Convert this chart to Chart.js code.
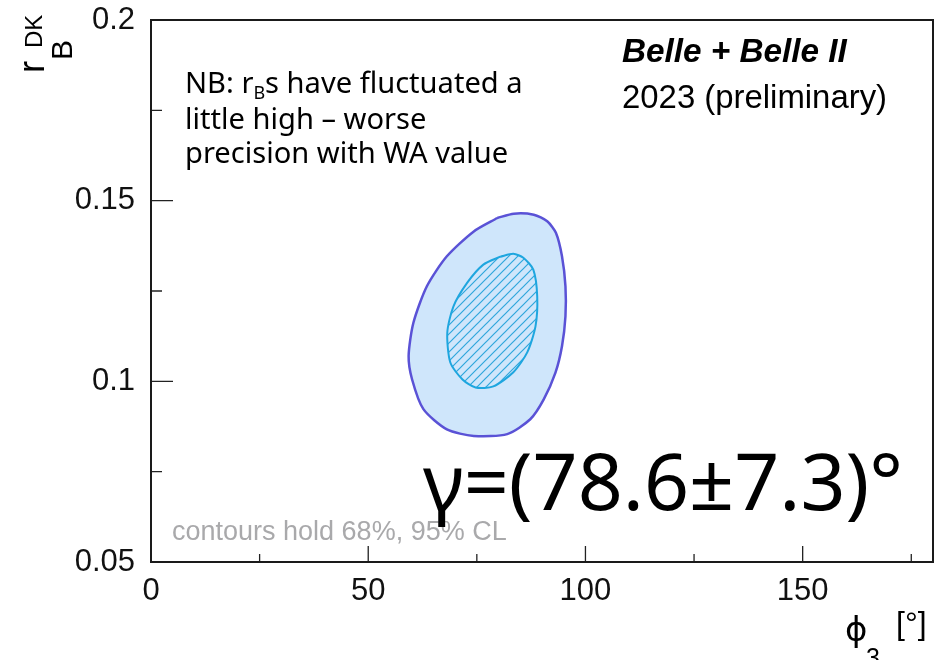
<!DOCTYPE html>
<html>
<head>
<meta charset="utf-8">
<script src="https://cdn.jsdelivr.net/npm/chart.js@4.4.0/dist/chart.umd.min.js"></script>
<style>
  html, body { margin: 0; padding: 0; background: #fff; }
</style>
</head>
<body>
<canvas id="c" width="938" height="660"></canvas>
<script>
// 95% CL contour (phi3 in degrees, r_B^DK)
const outerPhi = [79.7, 83.5, 88.1, 91.2, 93.2, 94.6, 95.4, 95.4, 94.6, 93.1, 90.4, 87.3, 82.0, 74.3, 68.1, 62.7, 60.1, 59.3, 60.4, 63.5, 68.1, 74.3, 79.7];
const outerRb  = [0.1452, 0.1464, 0.1461, 0.1443, 0.1411, 0.1346, 0.1263, 0.1180, 0.1097, 0.1024, 0.0950, 0.0895, 0.0854, 0.0849, 0.0867, 0.0923, 0.1005, 0.1070, 0.1162, 0.1263, 0.1346, 0.1415, 0.1452];
// 68% CL contour
const innerPhi = [80.4, 83.4, 85.7, 88.0, 88.9, 88.5, 86.6, 83.4, 78.8, 74.7, 71.7, 68.9, 68.2, 69.6, 72.8, 76.5, 80.4];
const innerRb  = [0.1345, 0.1353, 0.1342, 0.1309, 0.1235, 0.1152, 0.1080, 0.1025, 0.0986, 0.0983, 0.1005, 0.1052, 0.1135, 0.1207, 0.1273, 0.1323, 0.1345];

const xMajor = [0, 50, 100, 150];
const xMinor = [25, 75, 125, 175];
const yMajor = [0.05, 0.1, 0.15, 0.2];
const yMinor = [0.075, 0.125, 0.175];

const pts = (xs, ys) => xs.map((x, i) => ({ x: x, y: ys[i] }));

const canvas = document.getElementById('c');
const ctx = canvas.getContext('2d');

// diagonal hatching for the 68% region
function makeHatch() {
  const t = 9;
  const p = document.createElement('canvas');
  p.width = t; p.height = t;
  const g = p.getContext('2d');
  g.fillStyle = '#cfe6fb';
  g.fillRect(0, 0, t, t);
  g.strokeStyle = '#2ea6dc';
  g.lineWidth = 1.2;
  g.beginPath();
  g.moveTo(-1, t + 1); g.lineTo(t + 1, -1);
  g.moveTo(-1, 1); g.lineTo(1, -1);
  g.moveTo(t - 1, t + 1); g.lineTo(t + 1, t - 1);
  g.stroke();
  return ctx.createPattern(p, 'repeat');
}

function fit(c, txt, style, family, w) {
  c.font = style + ' 100px ' + family;
  const s = 100 * w / c.measureText(txt).width;
  c.font = style + ' ' + s.toFixed(1) + 'px ' + family;
  return s;
}

const decor = {
  id: 'decor',
  afterDraw(chart) {
    const c = chart.ctx;
    const a = chart.chartArea;
    const xs = chart.scales.x, ys = chart.scales.y;
    c.save();

    // ticks pointing inwards
    c.strokeStyle = '#222';
    c.lineWidth = 1.3;
    c.beginPath();
    xMajor.forEach(v => { const p = xs.getPixelForValue(v); c.moveTo(p, a.bottom); c.lineTo(p, a.bottom - 16); });
    xMinor.forEach(v => { const p = xs.getPixelForValue(v); c.moveTo(p, a.bottom); c.lineTo(p, a.bottom - 8); });
    yMajor.forEach(v => { const p = ys.getPixelForValue(v); c.moveTo(a.left, p); c.lineTo(a.left + 22, p); });
    yMinor.forEach(v => { const p = ys.getPixelForValue(v); c.moveTo(a.left, p); c.lineTo(a.left + 11, p); });
    c.stroke();

    // frame
    c.strokeStyle = '#1a1a1a';
    c.lineWidth = 2;
    c.strokeRect(a.left, a.top, a.right - a.left, a.bottom - a.top);

    c.fillStyle = '#000';
    c.textAlign = 'left';
    c.textBaseline = 'alphabetic';

    // experiment label
    fit(c, 'Belle + Belle II', 'italic bold', '"Liberation Sans", Arial', 225);
    c.fillText('Belle + Belle II', 622, 62);
    fit(c, '2023 (preliminary)', '', '"Liberation Sans", Arial', 265);
    c.fillText('2023 (preliminary)', 622, 108);

    // note
    const nbFam = '"Noto Sans", sans-serif';
    const nb = fit(c, 'precision with WA value', '', nbFam, 323);
    c.fillText('precision with WA value', 185, 163);
    c.fillText('little high \u2013 worse', 185, 129);
    let x = 185;
    c.fillText('NB: r', x, 93);
    x += c.measureText('NB: r').width;
    c.font = (nb * 0.62).toFixed(1) + 'px ' + nbFam;
    c.fillText('B', x, 99);
    x += c.measureText('B').width;
    c.font = nb.toFixed(1) + 'px ' + nbFam;
    c.fillText('s have fluctuated a', x, 93);

    // CL note
    c.fillStyle = '#a9a9ab';
    fit(c, 'contours hold 68%, 95% CL', '', '"Liberation Sans", Arial', 335);
    c.fillText('contours hold 68%, 95% CL', 172, 540);

    // result
    c.fillStyle = '#000';
    fit(c, '\u03b3=(78.6\u00b17.3)\u00b0', '', nbFam, 480);
    c.fillText('\u03b3=(78.6\u00b17.3)\u00b0', 423, 510);

    // x axis title
    c.font = '34px "DejaVu Sans"';
    c.fillText('\u03d5', 845, 641);
    c.font = '25px "Liberation Sans", Arial';
    c.fillText('3', 866, 666);
    c.font = '32px "Liberation Sans", Arial';
    c.fillText('[\u00b0]', 896, 634);

    // y axis title, rotated
    c.translate(44, 73);
    c.rotate(-Math.PI / 2);
    c.font = '36px "Liberation Sans", Arial';
    c.fillText('r', 0, 0);
    c.font = '30px "Liberation Sans", Arial';
    c.fillText('B', 13, 28);
    c.font = '24px "Liberation Sans", Arial';
    c.fillText('DK', 25, -2);

    c.restore();
  }
};

const tickFont = { family: '"Liberation Sans", Arial', size: 31 };

new Chart(ctx, {
  type: 'scatter',
  data: {
    datasets: [
      {
        label: '68% CL',
        data: pts(innerPhi, innerRb),
        showLine: true,
        tension: 0.25,
        pointRadius: 0,
        borderColor: '#1ea6df',
        borderWidth: 2,
        backgroundColor: makeHatch(),
        fill: 'shape',
        order: 1
      },
      {
        label: '95% CL',
        data: pts(outerPhi, outerRb),
        showLine: true,
        tension: 0.25,
        pointRadius: 0,
        borderColor: '#5a52d6',
        borderWidth: 2.5,
        backgroundColor: '#cfe6fb',
        fill: 'shape',
        order: 2
      }
    ]
  },
  options: {
    responsive: false,
    animation: false,
    events: [],
    layout: { padding: { top: 20, right: 5, left: 0, bottom: 0 } },
    plugins: { legend: { display: false }, tooltip: { enabled: false } },
    scales: {
      x: {
        type: 'linear',
        min: 0, max: 180,
        afterBuildTicks: s => { s.ticks = xMajor.map(v => ({ value: v })); },
        afterFit: s => { s.height = 98; s.paddingLeft = 0; s.paddingRight = 0; },
        grid: { display: false, drawTicks: false },
        border: { display: false },
        ticks: { font: tickFont, color: '#111', padding: 11, maxRotation: 0 }
      },
      y: {
        type: 'linear',
        min: 0.05, max: 0.2,
        afterBuildTicks: s => { s.ticks = yMajor.map(v => ({ value: v })); },
        afterFit: s => { s.width = 151; s.paddingTop = 0; s.paddingBottom = 0; },
        grid: { display: false, drawTicks: false },
        border: { display: false },
        ticks: { font: tickFont, color: '#111', padding: 16, callback: v => String(v) }
      }
    }
  },
  plugins: [decor]
});
</script>
</body>
</html>
